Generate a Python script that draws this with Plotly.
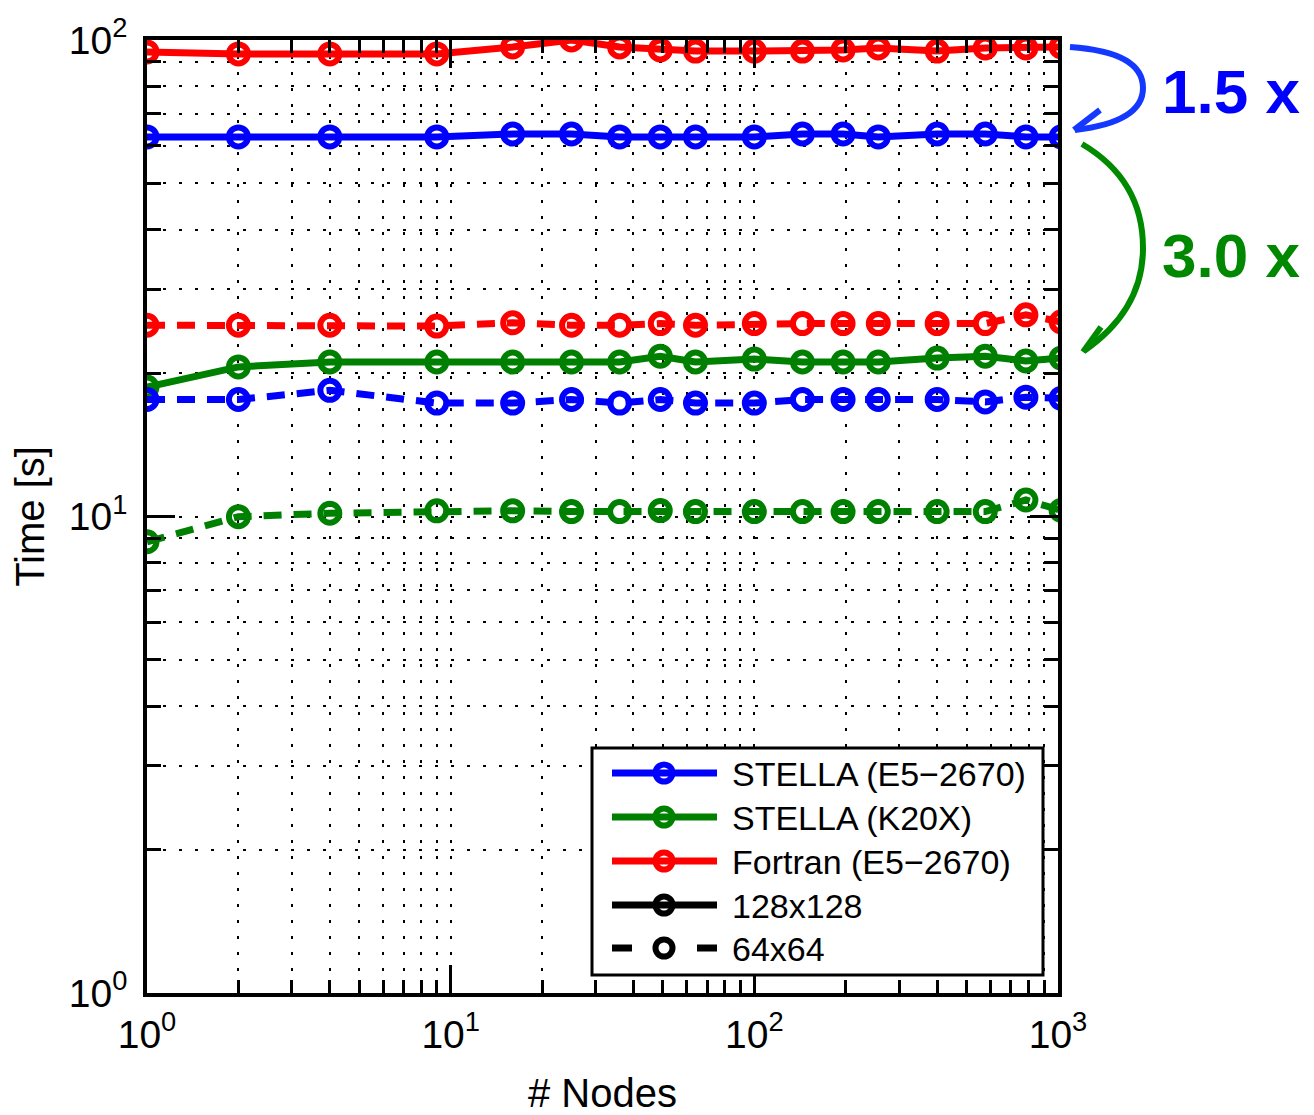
import plotly.graph_objects as go

# ---------------- data ----------------
nodes = [1, 2, 4, 9, 16, 25, 36, 49, 64, 100, 144, 196, 256, 400, 576, 784, 1024]

stella_cpu_128 = [62.6, 62.6, 62.6, 62.6, 63.5, 63.5, 62.6, 62.6, 62.6, 62.6, 63.5, 63.5, 62.6, 63.5, 63.5, 62.6, 62.6]
stella_gpu_128 = [18.7, 20.6, 21.1, 21.1, 21.1, 21.1, 21.1, 21.7, 21.1, 21.4, 21.1, 21.1, 21.1, 21.5, 21.7, 21.2, 21.5]
fortran_128 = [94.4, 93.5, 93.5, 93.5, 96.7, 100.0, 96.7, 95.3, 94.8, 94.8, 94.8, 95.3, 96.2, 94.8, 96.2, 96.2, 96.7]

stella_cpu_64 = [17.6, 17.6, 18.4, 17.3, 17.3, 17.6, 17.3, 17.6, 17.3, 17.3, 17.6, 17.6, 17.6, 17.6, 17.4, 17.8, 17.7]
stella_gpu_64 = [8.85, 9.99, 10.16, 10.28, 10.28, 10.24, 10.24, 10.29, 10.24, 10.24, 10.24, 10.24, 10.24, 10.24, 10.24, 10.83, 10.3]
fortran_64 = [25.2, 25.2, 25.2, 25.1, 25.5, 25.2, 25.2, 25.4, 25.2, 25.4, 25.4, 25.4, 25.4, 25.4, 25.4, 26.5, 25.6]

legend_labels = ["STELLA (E5\u22122670)", "STELLA (K20X)", "Fortran (E5\u22122670)", "128x128", "64x64"]
x_tick_vals = [1, 10, 100, 1000]
x_tick_text = ["10<sup>0</sup>", "10<sup>1</sup>", "10<sup>2</sup>", "10<sup>3</sup>"]
y_tick_vals = [1, 10, 100]
y_tick_text = ["10<sup>0</sup>", "10<sup>1</sup>", "10<sup>2</sup>"]
speedup_labels = ["1.5 x", "3.0 x"]

# ---------------- style ----------------
BLUE = "#0000FF"
GREEN = "#008000"
RED = "#FF0000"
FONT = "Liberation Sans, Arial, Helvetica, sans-serif"
OFF = 8  # default page body margin
W, H = 1314 - OFF, 1115 - OFF
L, R, T, B = 147, 1058, 40, 993  # plot area in screen pixels

def px(x):
    return (x - L) / (R - L)

def py(y):
    return (B - y) / (B - T)

DASH = "18px,12px"
GRID_DASH = "3px,13px"

fig = go.Figure()

series = [
    (fortran_128, RED, "solid"),
    (stella_cpu_128, BLUE, "solid"),
    (stella_gpu_128, GREEN, "solid"),
    (fortran_64, RED, DASH),
    (stella_cpu_64, BLUE, DASH),
    (stella_gpu_64, GREEN, DASH),
]
for ys, color, dash in series:
    fig.add_trace(go.Scatter(
        x=nodes, y=ys, mode="lines+markers",
        line=dict(color=color, width=7, dash=dash),
        marker=dict(symbol="circle-open", size=19, color=color,
                    line=dict(width=6, color=color)),
        showlegend=False, hoverinfo="skip",
    ))

minor_x = [m * 10 ** e for e in range(0, 3) for m in range(2, 10)]
minor_y = [m * 10 ** e for e in range(0, 2) for m in range(2, 10)]

axis_common = dict(
    type="log", ticks="inside", ticklen=28, tickwidth=3, tickcolor="black",
    showline=True, linewidth=3.5, linecolor="black", mirror="ticks",
    showgrid=True, gridcolor="black", griddash=GRID_DASH, gridwidth=1.6,
    zeroline=False, tickmode="array",
    tickfont=dict(size=39, family=FONT, color="black"),
)

fig.update_layout(
    template="none",
    width=W, height=H,
    margin=dict(l=L - OFF, r=W - (R - OFF), t=T - OFF, b=H - (B - OFF), pad=0),
    paper_bgcolor="white", plot_bgcolor="white",
    font=dict(family=FONT, color="black"),
    xaxis=dict(
        **axis_common, range=[0, 3], tickvals=x_tick_vals, ticktext=x_tick_text,
        ticklabelstandoff=4,
        minor=dict(tickvals=minor_x, ticks="inside", ticklen=13, tickwidth=3,
                   tickcolor="black", showgrid=True, gridcolor="black",
                   griddash=GRID_DASH, gridwidth=1.6),
        title=dict(text="# Nodes", font=dict(size=40, family=FONT), standoff=30),
    ),
    yaxis=dict(
        **axis_common, range=[0, 2], tickvals=y_tick_vals, ticktext=y_tick_text,
        ticklabelstandoff=8,
        minor=dict(tickvals=minor_y, ticks="inside", ticklen=14, tickwidth=3,
                   tickcolor="black", showgrid=True, gridcolor="black",
                   griddash=GRID_DASH, gridwidth=1.6),
        title=dict(text="Time [s]", font=dict(size=40, family=FONT), standoff=24),
    ),
    showlegend=False,
)

shapes = []
annotations = []

# ---------------- manual legend ----------------
shapes.append(dict(type="rect", xref="paper", yref="paper",
                   x0=px(592), x1=px(1043), y0=py(975), y1=py(748),
                   line=dict(color="black", width=3), fillcolor="white", layer="above"))
entry_colors = [BLUE, GREEN, RED, "black", "black"]
entry_dashed = [False, False, False, False, True]
entry_y = [773, 817, 861, 905, 948]
for lab, col, dashed, yy in zip(legend_labels, entry_colors, entry_dashed, entry_y):
    if dashed:
        for a, b in [(612, 632), (697, 717)]:
            shapes.append(dict(type="line", xref="paper", yref="paper",
                               x0=px(a), x1=px(b), y0=py(yy), y1=py(yy),
                               line=dict(color=col, width=7), layer="above"))
    else:
        shapes.append(dict(type="line", xref="paper", yref="paper",
                           x0=px(612), x1=px(717), y0=py(yy), y1=py(yy),
                           line=dict(color=col, width=7), layer="above"))
    r = 8.5
    shapes.append(dict(type="circle", xref="paper", yref="paper",
                       x0=px(664 - r), x1=px(664 + r), y0=py(yy + r), y1=py(yy - r),
                       line=dict(color=col, width=6), layer="above"))
    annotations.append(dict(text=lab, xref="paper", yref="paper",
                            x=px(730), y=py(yy + 1), xanchor="left", yanchor="middle",
                            showarrow=False, font=dict(size=34, family=FONT, color="black")))

# ---------------- speed-up arrows ----------------
def path(points_cmds):
    out = []
    for cmd, pts in points_cmds:
        coords = " ".join(f"{px(x):.5f},{py(y):.5f}" for x, y in pts)
        out.append(f"{cmd} {coords}")
    return " ".join(out)

ARROW_BLUE = "#1438FF"
ARROW_GREEN = "#008A00"
blue_curve = path([("M", [(1070, 47)]), ("Q", [(1143, 52), (1143, 88)]), ("Q", [(1143, 122), (1075, 130)])])
blue_head = path([("M", [(1100, 110)]), ("L", [(1074, 130), (1106, 141)])])
green_curve = path([("M", [(1082, 144)]), ("Q", [(1143, 180), (1143, 248)]), ("Q", [(1143, 310), (1084, 351)])])
green_head = path([("M", [(1101, 327)]), ("L", [(1083, 352), (1117, 351)])])
for p, c in [(blue_curve, ARROW_BLUE), (blue_head, ARROW_BLUE), (green_curve, ARROW_GREEN), (green_head, ARROW_GREEN)]:
    shapes.append(dict(type="path", xref="paper", yref="paper", path=p,
                       line=dict(color=c, width=6), layer="above"))

annotations.append(dict(text=f"<b>{speedup_labels[0]}</b>", xref="paper", yref="paper",
                        x=px(1231), y=py(92), xanchor="center", yanchor="middle",
                        showarrow=False, font=dict(size=62, family=FONT, color="#0000FF")))
annotations.append(dict(text=f"<b>{speedup_labels[1]}</b>", xref="paper", yref="paper",
                        x=px(1231), y=py(255), xanchor="center", yanchor="middle",
                        showarrow=False, font=dict(size=62, family=FONT, color="#008800")))

fig.update_layout(shapes=shapes, annotations=annotations)
fig.write_html("out.html")
